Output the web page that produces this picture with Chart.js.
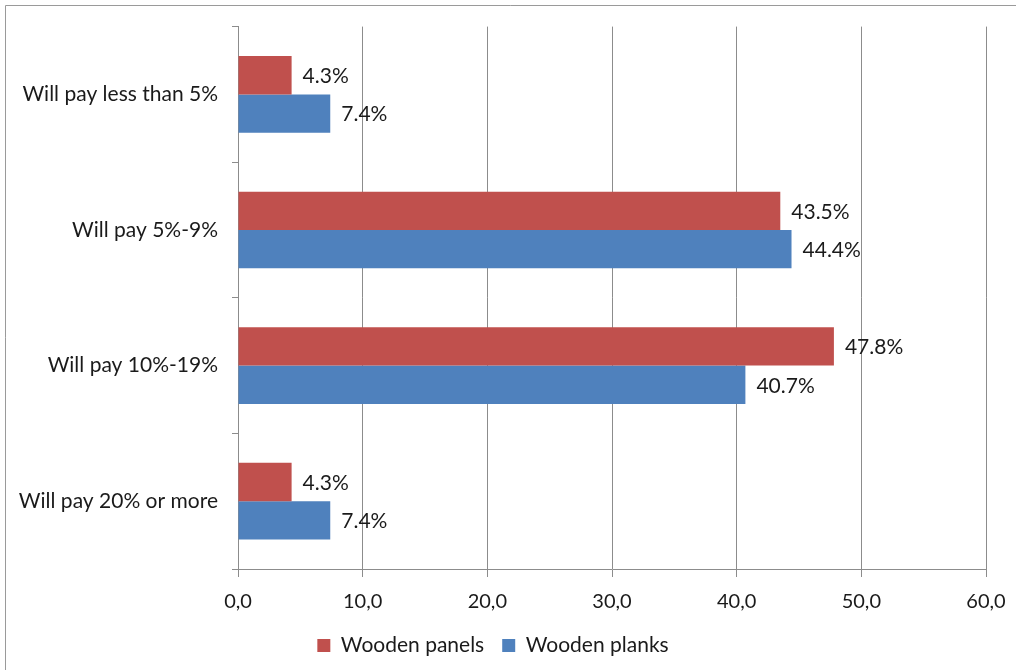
<!DOCTYPE html>
<html lang="en">
<head>
  <meta charset="UTF-8">
  <title>Willingness to pay</title>
  <style>
    body { margin: 0; background: #fff; }
    #chart { display: block; }
  </style>
</head>
<body>
  <canvas id="chart" width="1016" height="670"></canvas>
  <script src="https://cdn.jsdelivr.net/npm/chart.js"></script>
  <script>
    const categories = ['Will pay less than 5%', 'Will pay 5%-9%', 'Will pay 10%-19%', 'Will pay 20% or more'];
    const panels = [4.3, 43.5, 47.8, 4.3];
    const planks = [7.4, 44.4, 40.7, 7.4];
    const seriesNames = ['Wooden panels', 'Wooden planks'];
    const xTicks = [0, 10, 20, 30, 40, 50, 60];

    const FONT = 'Lato, "Open Sans", sans-serif';
    const GRID = '#8c8c8c';

    // outer frame like the spreadsheet chart area
    const frame = {
      id: 'frame',
      beforeDraw(chart) {
        const c = chart.ctx;
        c.save();
        c.strokeStyle = '#9a9a9a';
        c.lineWidth = 1;
        c.beginPath();
        c.moveTo(5.5, 670);
        c.lineTo(5.5, 5.5);
        c.lineTo(1016, 5.5);
        c.stroke();
        c.restore();
      }
    };

    // value labels at the end of each bar
    const valueLabels = {
      id: 'valueLabels',
      afterDatasetsDraw(chart) {
        const c = chart.ctx;
        c.save();
        c.font = '21px ' + FONT;
        c.fillStyle = '#1a1a1a';
        c.textAlign = 'left';
        c.textBaseline = 'middle';
        chart.data.datasets.forEach((ds, i) => {
          chart.getDatasetMeta(i).data.forEach((bar, j) => {
            c.fillText(ds.data[j].toFixed(1) + '%', bar.x + 11, bar.y + 1);
          });
        });
        c.restore();
      }
    };

    new Chart(document.getElementById('chart'), {
      type: 'bar',
      data: {
        labels: categories,
        datasets: [
          { label: seriesNames[0], data: panels, backgroundColor: '#c0504d' },
          { label: seriesNames[1], data: planks, backgroundColor: '#4f81bd' }
        ]
      },
      options: {
        indexAxis: 'y',
        responsive: false,
        animation: false,
        datasets: { bar: { categoryPercentage: 0.566, barPercentage: 1.0 } },
        layout: { padding: { left: 0, top: 25, right: 30, bottom: 4 } },
        scales: {
          x: {
            min: 0, max: 60,
            afterBuildTicks(scale) { scale.ticks = xTicks.map(v => ({ value: v })); },
            afterFit(scale) {
              scale.height = 48;
              scale.paddingRight = 0;
              scale.paddingLeft = 0;
            },
            grid: { color: GRID, tickLength: 8, lineWidth: 1 },
            border: { color: GRID },
            ticks: {
              color: '#1a1a1a',
              font: { family: FONT, size: 20 },
              padding: 13,
              callback: v => v.toFixed(1).replace('.', ',')
            }
          },
          y: {
            afterFit(scale) { scale.width = 238; },
            grid: { offset: true, drawOnChartArea: false, color: GRID, tickLength: 6 },
            border: { color: GRID },
            ticks: {
              color: '#1a1a1a',
              font: { family: FONT, size: 21 },
              padding: 14
            }
          }
        },
        plugins: {
          legend: {
            position: 'bottom',
            labels: {
              color: '#1a1a1a',
              font: { family: FONT, size: 21 },
              boxWidth: 13,
              boxHeight: 13,
              padding: 18
            }
          },
          tooltip: { enabled: false }
        }
      },
      plugins: [frame, valueLabels]
    });
  </script>
</body>
</html>
